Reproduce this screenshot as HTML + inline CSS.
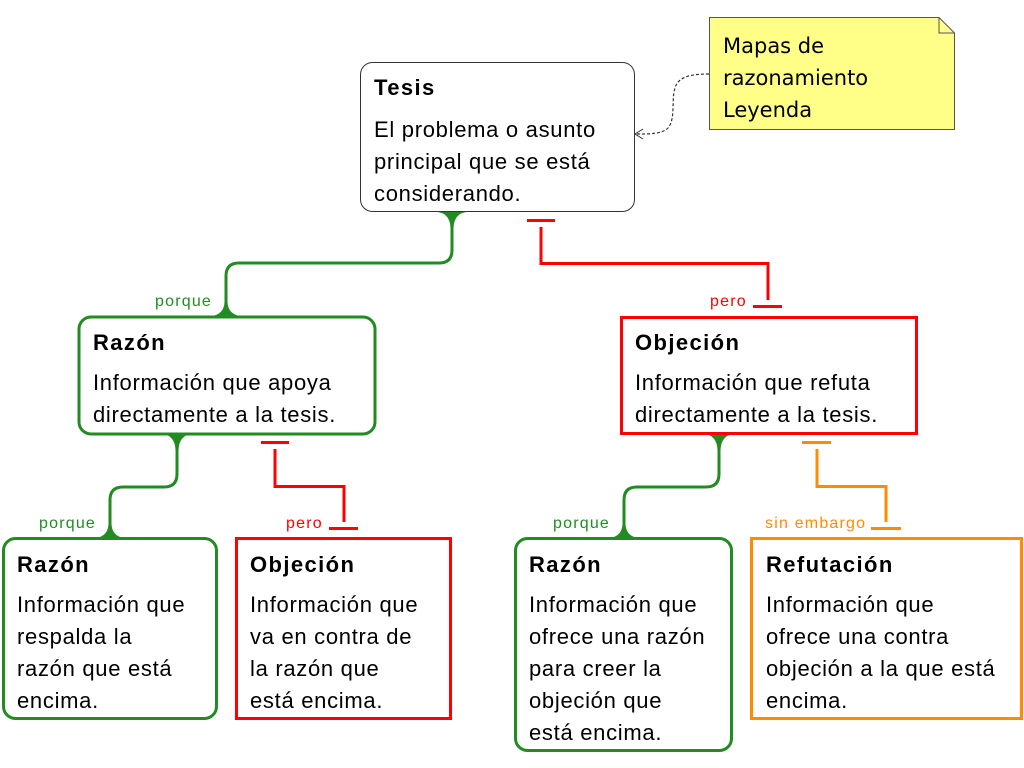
<!DOCTYPE html>
<html><head><meta charset="utf-8"><style>
html,body{margin:0;padding:0;background:#fff;}
svg{display:block;}
text{font-family:"Liberation Sans",sans-serif;}
.t{font-weight:bold;font-size:22px;letter-spacing:1.4px;fill:#000;}
.b{font-size:22px;letter-spacing:0.7px;fill:#000;}
.l{font-size:16px;letter-spacing:1.2px;}
</style></head><body>
<svg width="1024" height="768" viewBox="0 0 1024 768" xmlns="http://www.w3.org/2000/svg">
<path d="M709.5 17.5 H939 L954.5 33 V129.5 H709.5 Z" fill="#ffff88" stroke="#555" stroke-width="1"/>
<path d="M939 17.5 V33 H954.5" fill="none" stroke="#555" stroke-width="1"/>
<text x="723" y="53" style="font-family:'DejaVu Sans',sans-serif;font-size:21px">Mapas de</text>
<text x="723" y="85" style="font-family:'DejaVu Sans',sans-serif;font-size:21px">razonamiento</text>
<text x="723" y="117" style="font-family:'DejaVu Sans',sans-serif;font-size:21px">Leyenda</text>
<path d="M709 74 C690 74 678 77 675 88 C671 100 676 118 668 128 C662 134 650 134 636 134" fill="none" stroke="#333" stroke-width="1.2" stroke-dasharray="3,2"/>
<path d="M643 129 L635 134 L643 139" fill="none" stroke="#333" stroke-width="1"/>

<rect x="360.5" y="62.5" width="274" height="149" rx="12" fill="#fff" stroke="#333" stroke-width="1"/>
<text class="t" x="374" y="95">Tesis</text>
<text class="b" x="374" y="137">El problema o asunto</text>
<text class="b" x="374" y="169">principal que se está</text>
<text class="b" x="374" y="201">considerando.</text>

<g fill="#228B22" stroke="none">
<path d="M438 212 H466 Q454 214 453.5 228 H450.5 Q450 214 438 212 Z"/>
<path d="M212 316 H240 Q228 314 227.5 302 H224.5 Q224 314 212 316 Z"/>
<path d="M163 434 H191 Q179 436 178.5 450 H175.5 Q175 436 163 434 Z"/>
<path d="M96 538 H124 Q112 536 111.5 524 H108.5 Q108 536 96 538 Z"/>
<path d="M705 434 H733 Q721 436 720.5 450 H717.5 Q717 436 705 434 Z"/>
<path d="M610 538 H638 Q626 536 625.5 524 H622.5 Q622 536 610 538 Z"/>
</g>
<g fill="none" stroke="#228B22" stroke-width="3">
<path d="M452 214 V250 Q452 263 439 263 H239 Q226 263 226 276 V316"/>
<path d="M177 436 V474 Q177 487 164 487 H123 Q110 487 110 500 V538"/>
<path d="M719 436 V474 Q719 487 706 487 H637 Q624 487 624 500 V538"/>
</g>
<text class="l" x="155" y="306" fill="#228B22">porque</text>
<text class="l" x="39" y="528" fill="#228B22">porque</text>
<text class="l" x="553" y="528" fill="#228B22">porque</text>

<g fill="none" stroke="#ff0000" stroke-width="3">
<path d="M527 220.5 H555"/><path d="M541 227 V263.5 H768 V300"/><path d="M753 306.5 H782"/>
<path d="M261 442.5 H289"/><path d="M275 449 V486.5 H344 V522"/><path d="M329 528.5 H358"/>
</g>
<text class="l" x="710" y="306" fill="#ff0000">pero</text>
<text class="l" x="286" y="528" fill="#ff0000">pero</text>
<g fill="none" stroke="#ff8c00" stroke-width="3">
<path d="M802 442.5 H831"/><path d="M817 449 V486.5 H886 V522"/><path d="M871 528.5 H901"/>
</g>
<text class="l" x="765" y="528" fill="#ff8c00">sin embargo</text>

<rect x="79" y="317" width="296" height="117" rx="12" fill="#fff" stroke="#228B22" stroke-width="3"/>
<text class="t" x="93" y="350">Razón</text>
<text class="b" x="93" y="390">Información que apoya</text>
<text class="b" x="93" y="422">directamente a la tesis.</text>

<rect x="621.5" y="317.5" width="295" height="116" fill="#fff" stroke="#ff0000" stroke-width="3"/>
<text class="t" x="635" y="350">Objeción</text>
<text class="b" x="635" y="390">Información que refuta</text>
<text class="b" x="635" y="422">directamente a la tesis.</text>

<rect x="3.5" y="538.5" width="213" height="180" rx="12" fill="#fff" stroke="#228B22" stroke-width="3"/>
<text class="t" x="17" y="572">Razón</text>
<text class="b" x="17" y="612">Información que</text>
<text class="b" x="17" y="644">respalda la</text>
<text class="b" x="17" y="676">razón que está</text>
<text class="b" x="17" y="708">encima.</text>

<rect x="236.5" y="538.5" width="214" height="180" fill="#fff" stroke="#ff0000" stroke-width="3"/>
<text class="t" x="250" y="572">Objeción</text>
<text class="b" x="250" y="612">Información que</text>
<text class="b" x="250" y="644">va en contra de</text>
<text class="b" x="250" y="676">la razón que</text>
<text class="b" x="250" y="708">está encima.</text>

<rect x="515.5" y="538.5" width="216" height="212" rx="12" fill="#fff" stroke="#228B22" stroke-width="3"/>
<text class="t" x="529" y="572">Razón</text>
<text class="b" x="529" y="612">Información que</text>
<text class="b" x="529" y="644">ofrece una razón</text>
<text class="b" x="529" y="676">para creer la</text>
<text class="b" x="529" y="708">objeción que</text>
<text class="b" x="529" y="740">está encima.</text>

<rect x="751.5" y="538.5" width="270" height="180" fill="#fff" stroke="#ff8c00" stroke-width="3"/>
<text class="t" x="766" y="572">Refutación</text>
<text class="b" x="766" y="612">Información que</text>
<text class="b" x="766" y="644">ofrece una contra</text>
<text class="b" x="766" y="676">objeción a la que está</text>
<text class="b" x="766" y="708">encima.</text>
</svg>
</body></html>
